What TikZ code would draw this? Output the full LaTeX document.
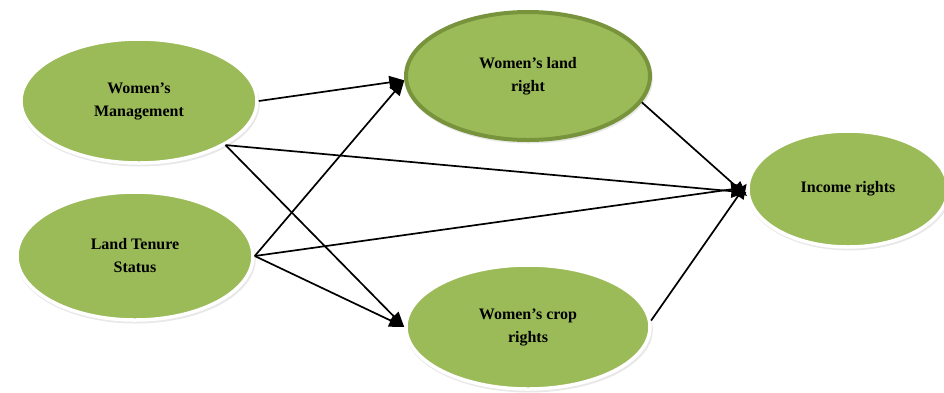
\documentclass[tikz,border=0pt]{standalone}
\usepackage{fontspec}
\setmainfont{Liberation Serif}
\usetikzlibrary{shapes.geometric,arrows.meta,shadows}
\definecolor{leaf}{HTML}{9BBB59}
\definecolor{leafdark}{HTML}{77933C}
\tikzset{
  oval/.style={ellipse, fill=leaf, draw=white, line width=3.5pt, inner sep=0pt,
    align=center, font=\fontsize{16}{23}\selectfont\bfseries,
    drop shadow={opacity=0.18, shadow xshift=1pt, shadow yshift=-2.5pt, shadow scale=1.015}},
  ovaldark/.style={oval, draw=leafdark, line width=4pt},
  link/.style={line width=1.7pt, -{Triangle[length=15pt,width=13pt]}}
}
\begin{document}
\begin{tikzpicture}[x=1pt,y=-1pt]
\useasboundingbox (0,0) rectangle (944,392);
\node[oval, minimum width=236pt, minimum height=124pt] (wm) at (139,101) {Women's\\Management};
\node[oval, minimum width=236pt, minimum height=128pt] (lts) at (135,256) {Land Tenure\\Status};
\node[ovaldark, minimum width=244pt, minimum height=128pt] (wlr) at (528,76) {Women's land\\right};
\node[oval, minimum width=244pt, minimum height=124pt] (crop) at (528,327) {Women's crop\\rights};
\node[oval, minimum width=200pt, minimum height=116pt] (inc) at (848,189) {Income rights};
\draw[link] (wm.east) -- (wlr.182);
\draw[link] (wm.-27) -- (inc.182);
\draw[link] (wm.-27) -- (crop.180);
\draw[link] (lts.east) -- (wlr.182);
\draw[link] (lts.east) -- (inc.179);
\draw[link] (lts.east) -- (crop.180);
\draw[link] (wlr.-13) -- (inc.184);
\draw[link] (crop.3) -- (inc.177);
\end{tikzpicture}
\end{document}
